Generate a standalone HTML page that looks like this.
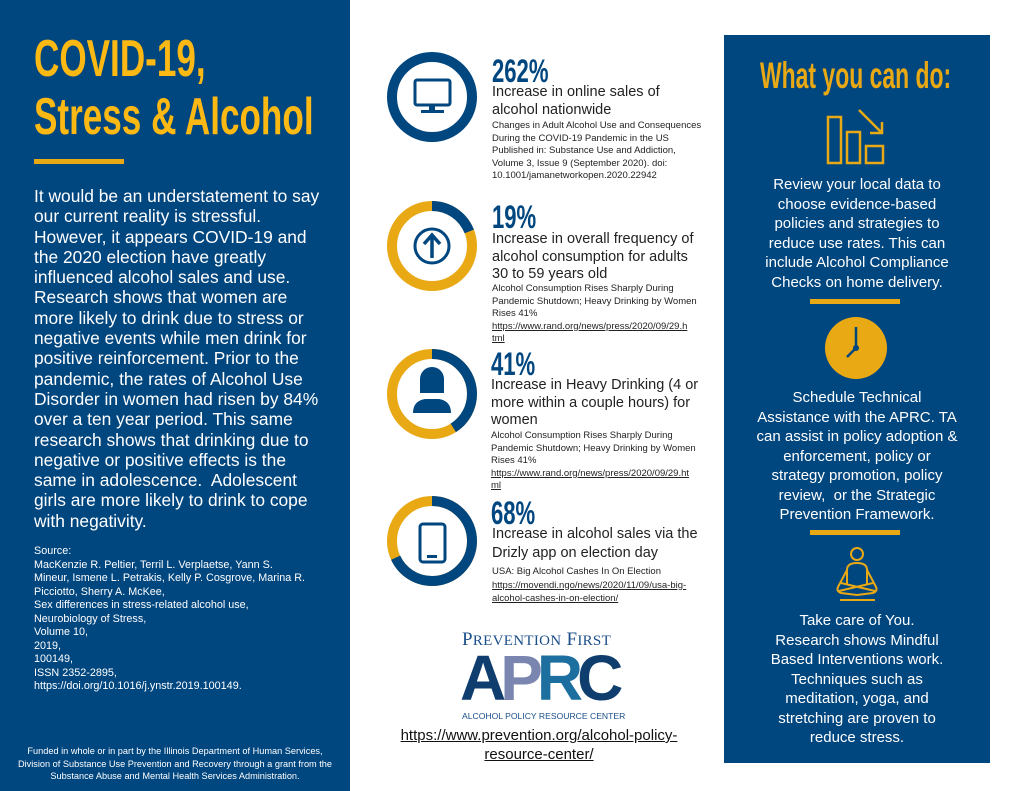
<!DOCTYPE html>
<html><head><meta charset="utf-8"><style>
body{margin:0;width:1024px;height:791px;position:relative;background:#fff;font-family:"Liberation Sans",sans-serif;overflow:hidden}
.a{position:absolute;white-space:nowrap}
.cond{transform-origin:0 0;transform:scaleX(0.675);font-family:"Liberation Sans",sans-serif;font-weight:bold}
#left{position:absolute;left:0;top:0;width:350px;height:791px;background:#00467f}
#right{position:absolute;left:724px;top:35px;width:266px;height:728px;background:#00467f}
.w{color:#fff}
.gold{color:#fdb913}
.pct{color:#00467f;font-size:32px;line-height:32px;transform:scaleX(0.69)}
.d{font-size:14.5px;line-height:17.5px;color:#222}
.s{font-size:9.5px;line-height:12.5px;color:#222}
u{text-decoration:underline}
.rc{position:absolute;left:724px;width:266px;text-align:center;color:#fff;font-size:15px;line-height:19.5px}
</style></head><body>
<div id="left"></div>
<div class="a cond gold" style="left:34px;top:30px;font-size:52px;line-height:58px;">COVID-19,<br>Stress &amp; Alcohol</div>
<div class="a" style="left:34px;top:159px;width:90px;height:5px;background:#e8a915"></div>
<div class="a w" style="left:34px;top:186px;font-size:17.4px;line-height:20.3px;">It would be an understatement to say<br>our current reality is stressful.<br>However, it appears COVID-19 and<br>the 2020 election have greatly<br>influenced alcohol sales and use.<br>Research shows that women are<br>more likely to drink due to stress or<br>negative events while men drink for<br>positive reinforcement. Prior to the<br>pandemic, the rates of Alcohol Use<br>Disorder in women had risen by 84%<br>over a ten year period. This same<br>research shows that drinking due to<br>negative or positive effects is the<br>same in adolescence.&nbsp; Adolescent<br>girls are more likely to drink to cope<br>with negativity.</div>
<div class="a w" style="left:34px;top:545px;font-size:10.8px;line-height:13.5px;">Source:<br>MacKenzie R. Peltier, Terril L. Verplaetse, Yann S.<br>Mineur, Ismene L. Petrakis, Kelly P. Cosgrove, Marina R.<br>Picciotto, Sherry A. McKee,<br>Sex differences in stress-related alcohol use,<br>Neurobiology of Stress,<br>Volume 10,<br>2019,<br>100149,<br>ISSN 2352-2895,<br>https://doi.org/10.1016/j.ynstr.2019.100149.</div>
<div class="a w" style="left:0;width:350px;text-align:center;top:745px;font-size:9.2px;line-height:12.6px;">Funded in whole or in part by the Illinois Department of Human Services,<br>Division of Substance Use Prevention and Recovery through a grant from the<br>Substance Abuse and Mental Health Services Administration.</div>

<svg class="a" style="left:380px;top:45px" width="110" height="560" viewBox="0 0 110 560">
<g fill="none" stroke-width="10">
<circle cx="52" cy="52" r="40" stroke="#00467f"/>
<circle cx="52" cy="201" r="40" stroke="#e8a915"/>
<circle cx="52" cy="201" r="40" stroke="#00467f" stroke-dasharray="47.8 300" transform="rotate(-90 52 201)"/>
<circle cx="52" cy="349" r="40" stroke="#e8a915"/>
<circle cx="52" cy="349" r="40" stroke="#00467f" stroke-dasharray="103 300" transform="rotate(-90 52 349)"/>
<circle cx="52" cy="496" r="40" stroke="#e8a915"/>
<circle cx="52" cy="496" r="40" stroke="#00467f" stroke-dasharray="171 300" transform="rotate(-90 52 496)"/>
</g>
<rect x="35" y="35" width="35" height="25" rx="2" fill="none" stroke="#00467f" stroke-width="3"/>
<rect x="49" y="60" width="6" height="5" fill="#00467f"/><rect x="41" y="65" width="23" height="3" fill="#00467f"/>
<circle cx="52" cy="201" r="17" fill="none" stroke="#00467f" stroke-width="3"/>
<path d="M52 213V191M44 199L52 190L60 199" fill="none" stroke="#00467f" stroke-width="3.5"/>
<path d="M40 334a12 12 0 0 1 24 0v14h-24z M33 368q0-12 12-14h14q12 2 12 14z" fill="#00467f"/>
<rect x="40" y="479" width="25" height="38" rx="3" fill="none" stroke="#00467f" stroke-width="3"/>
<rect x="47" y="510" width="10" height="3" fill="#00467f"/>
</svg>

<div class="a cond pct" style="left:492px;top:55px;">262%</div>
<div class="a d" style="left:492px;top:84px;">Increase in online sales of<br>alcohol nationwide</div>
<div class="a s" style="left:492px;top:120px;">Changes in Adult Alcohol Use and Consequences<br>During the COVID-19 Pandemic in the US<br>Published in: Substance Use and Addiction,<br>Volume 3, Issue 9 (September 2020). doi:<br>10.1001/jamanetworkopen.2020.22942</div>

<div class="a cond pct" style="left:492px;top:201px;">19%</div>
<div class="a d" style="left:492px;top:231px;">Increase in overall frequency of<br>alcohol consumption for adults<br>30 to 59 years old</div>
<div class="a s" style="left:492px;top:283px;">Alcohol Consumption Rises Sharply During<br>Pandemic Shutdown; Heavy Drinking by Women<br>Rises 41%<br><u>https://www.rand.org/news/press/2020/09/29.h</u><br><u>tml</u></div>

<div class="a cond pct" style="left:491px;top:348px;">41%</div>
<div class="a d" style="left:491px;top:377px;">Increase in Heavy Drinking (4 or<br>more within a couple hours) for<br>women</div>
<div class="a s" style="left:491px;top:430px;">Alcohol Consumption Rises Sharply During<br>Pandemic Shutdown; Heavy Drinking by Women<br>Rises 41%<br><u>https://www.rand.org/news/press/2020/09/29.ht</u><br><u>ml</u></div>

<div class="a cond pct" style="left:491px;top:497px;">68%</div>
<div class="a d" style="left:492px;top:525px;line-height:19px;">Increase in alcohol sales via the<br>Drizly app on election day</div>
<div class="a s" style="left:492px;top:565px;line-height:13.5px;">USA: Big Alcohol Cashes In On Election<br><u>https://movendi.ngo/news/2020/11/09/usa-big-</u><br><u>alcohol-cashes-in-on-election/</u></div>

<div class="a" style="left:462px;top:629px;font-family:'Liberation Serif',serif;font-size:19px;color:#1b4f8a;letter-spacing:0.3px;">P<span style="font-size:15px">REVENTION</span> F<span style="font-size:15px">IRST</span></div>
<div class="a" style="left:460px;top:646px;font-family:'Liberation Sans',sans-serif;font-weight:bold;font-size:64px;line-height:64px;letter-spacing:-6px;"><span style="color:#0f3d6e">A</span><span style="color:#7a86b0">P</span><span style="color:#1d6fa0">R</span><span style="color:#0f3d6e">C</span></div>
<div class="a" style="left:462px;top:711px;font-size:8.6px;color:#1b4f8a;">ALCOHOL POLICY RESOURCE CENTER</div>
<div class="a" style="left:380px;width:318px;text-align:center;top:726px;font-size:15px;line-height:19px;color:#111;"><u>https://www.prevention.org/alcohol-policy-</u><br><u>resource-center/</u></div>

<div id="right"></div>
<div class="a cond gold" style="left:760px;top:56px;font-size:37px;line-height:40px;color:#e8a915;transform:scaleX(0.62);">What you can do:</div>
<svg class="a" style="left:820px;top:105px" width="70" height="65">
<g fill="none" stroke="#e8a915" stroke-width="2.5"><rect x="8" y="12" width="13" height="46"/><rect x="27" y="27" width="13" height="31"/><rect x="46" y="41" width="17" height="17"/><path d="M39 5L62 28M50 28h12v-11"/></g></svg>
<div class="rc" style="top:175px;">Review your local data to<br>choose evidence-based<br>policies and strategies to<br>reduce use rates. This can<br>include Alcohol Compliance<br>Checks on home delivery.</div>
<div class="a" style="left:810px;top:299px;width:90px;height:5px;background:#e8a915"></div>
<svg class="a" style="left:820px;top:315px" width="70" height="70"><circle cx="36" cy="33" r="31" fill="#e8a915"/><path d="M36 12V33L27 42" stroke="#00467f" stroke-width="2.5" fill="none"/><circle cx="36" cy="33" r="3" fill="#00467f"/></svg>
<div class="rc" style="top:388px;">Schedule Technical<br>Assistance with the APRC. TA<br>can assist in policy adoption &amp;<br>enforcement, policy or<br>strategy promotion, policy<br>review,&nbsp; or the Strategic<br>Prevention Framework.</div>
<div class="a" style="left:810px;top:530px;width:90px;height:5px;background:#e8a915"></div>
<svg class="a" style="left:825px;top:545px" width="65" height="60"><g fill="none" stroke="#e8a915" stroke-width="2"><circle cx="32" cy="9" r="6"/><path d="M22 40V25q0-7 10-7t10 7v15M22 25l-9 17q-2 4 3 6l16 2 16-2q5-2 3-6l-9-17M14 46l34-8M50 46l-34-8M15 55h35"/></g></svg>
<div class="rc" style="top:611px;">Take care of You.<br>Research shows Mindful<br>Based Interventions work.<br>Techniques such as<br>meditation, yoga, and<br>stretching are proven to<br>reduce stress.</div>
</body></html>
